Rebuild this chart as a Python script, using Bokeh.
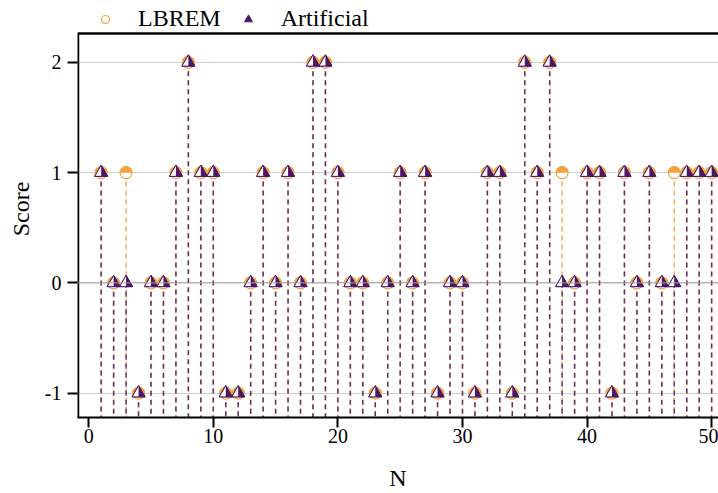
from bokeh.plotting import figure
from bokeh.models import (Range1d, Span, Legend, LegendItem, ColumnDataSource,
                          FixedTicker)
from bokeh.embed import file_html
from bokeh.resources import INLINE

# ---- data ----
N = list(range(1, 51))
artificial = [1, 0, 0, -1, 0, 0, 1, 2, 1, 1,
              -1, -1, 0, 1, 0, 1, 0, 2, 2, 1,
              0, 0, -1, 0, 1, 0, 1, -1, 0, 0,
              -1, 1, 1, -1, 2, 1, 2, 0, 0, 1,
              1, -1, 1, 0, 1, 0, 0, 1, 1, 1]
lbrem = [1, 0, 1, -1, 0, 0, 1, 2, 1, 1,
         -1, -1, 0, 1, 0, 1, 0, 2, 2, 1,
         0, 0, -1, 0, 1, 0, 1, -1, 0, 0,
         -1, 1, 1, -1, 2, 1, 2, 1, 0, 1,
         1, -1, 1, 0, 1, 0, 1, 1, 1, 1]
x_ticks = [0, 10, 20, 30, 40, 50]
y_ticks = [-1, 0, 1, 2]
y_tick_labels = {-1: "-1", 0: "0", 1: "1", 2: "2"}

# ---- style ----
PURPLE = "#4b1769"
ORANGE = "#f2a23c"
FONT = "Liberation Serif"
X0, X1 = -0.9, 50.55
Y0, YTOP = -1.221, 2.561   # full frame (top part hosts the legend)
Y1 = 2.261                 # top of the boxed panel
TRI = 13
SX, SY = 12.46, 110.0      # approx px per data unit (for the half-white overlay)

p = figure(width=718, height=493, output_backend="svg", toolbar_location=None,
           x_range=Range1d(X0, X1), y_range=Range1d(Y0, YTOP),
           min_border_left=77, min_border_right=0, min_border_top=0, min_border_bottom=0)
p.outline_line_color = None

# grid
p.xgrid.visible = False
p.ygrid.ticker = FixedTicker(ticks=y_ticks)
p.ygrid.grid_line_color = "#cfcfcf"
p.ygrid.grid_line_width = 1
p.add_layout(Span(location=0, dimension="width", line_color="#a0a0a0", line_width=1))

# panel border (top and left edges)
p.segment(x0=[X0, X0], y0=[Y1, Y0], x1=[X1, X0], y1=[Y1, Y1],
          line_color="black", line_width=[2.5, 3.5])

# sources
src_a = ColumnDataSource(dict(x=N, y=artificial, b=[Y0] * len(N)))
src_l = ColumnDataSource(dict(x=N, y=lbrem, b=[Y0] * len(N)))

# stems
p.segment(x0="x", y0="y", x1="x", y1="b", source=src_l, line_color=ORANGE,
          line_width=1.5, line_dash="5 4", line_alpha=0.9)
p.segment(x0="x", y0="y", x1="x", y1="b", source=src_a, line_color=PURPLE,
          line_width=1.5, line_dash="5 4", line_alpha=0.85)

# LBREM: ring + top half filled
r_circ = p.scatter(x="x", y="y", source=src_l, marker="circle", size=12,
                   fill_color="white", line_color=ORANGE, line_width=1.2)
p.wedge(x="x", y="y", radius=6, radius_units="screen", start_angle=0, end_angle=3.14159,
        source=src_l, fill_color=ORANGE, line_color=ORANGE, line_width=0.5)

# Artificial: triangle, left half white
r_tri = p.scatter(x="x", y="y", source=src_a, marker="triangle", size=TRI,
                  fill_color=PURPLE, line_color=PURPLE, line_width=1)
r = TRI / 2.0
half_xs = [[xi - r / SX, xi, xi] for xi in N]
half_ys = [[yi - 0.577 * r / SY, yi + 1.155 * r / SY, yi - 0.577 * r / SY] for yi in artificial]
p.patches(xs=half_xs, ys=half_ys, fill_color="white", line_color=None)
p.scatter(x="x", y="y", source=src_a, marker="triangle", size=TRI,
          fill_alpha=0, line_color=PURPLE, line_width=1)

# axes
for ax in (p.xaxis[0], p.yaxis[0]):
    ax.axis_line_color = "black"
    ax.axis_line_width = 2
    ax.major_tick_line_color = "black"
    ax.major_tick_line_width = 2
    ax.major_tick_out = 10
    ax.major_tick_in = 0
    ax.minor_tick_line_color = None
    ax.major_label_text_font = FONT
    ax.major_label_text_font_size = "20px"
    ax.major_label_text_color = "black"
    ax.axis_label_text_font = FONT
    ax.axis_label_text_font_size = "24px"
    ax.axis_label_text_font_style = "normal"
    ax.axis_label_text_color = "black"
p.yaxis.axis_line_color = None

p.xaxis.ticker = FixedTicker(ticks=x_ticks)
p.yaxis.ticker = FixedTicker(ticks=y_ticks)
p.yaxis.major_label_overrides = y_tick_labels
p.xaxis.axis_label = "N"
p.yaxis.axis_label = "Score"
p.xaxis.major_label_standoff = 1
p.xaxis.axis_label_standoff = 19
p.yaxis.major_label_standoff = 6
p.yaxis.axis_label_standoff = 8

legend = Legend(items=[LegendItem(label="LBREM", renderers=[r_circ]),
                       LegendItem(label="Artificial", renderers=[r_tri])],
                orientation="horizontal", location=(18, 385),
                border_line_color=None, background_fill_alpha=0,
                label_text_font=FONT, label_text_font_size="24px",
                label_text_color="black",
                glyph_width=20, glyph_height=22, label_standoff=23, spacing=17,
                padding=0, margin=0)
p.add_layout(legend, "center")

open("out.html", "w").write(file_html(p, INLINE))
